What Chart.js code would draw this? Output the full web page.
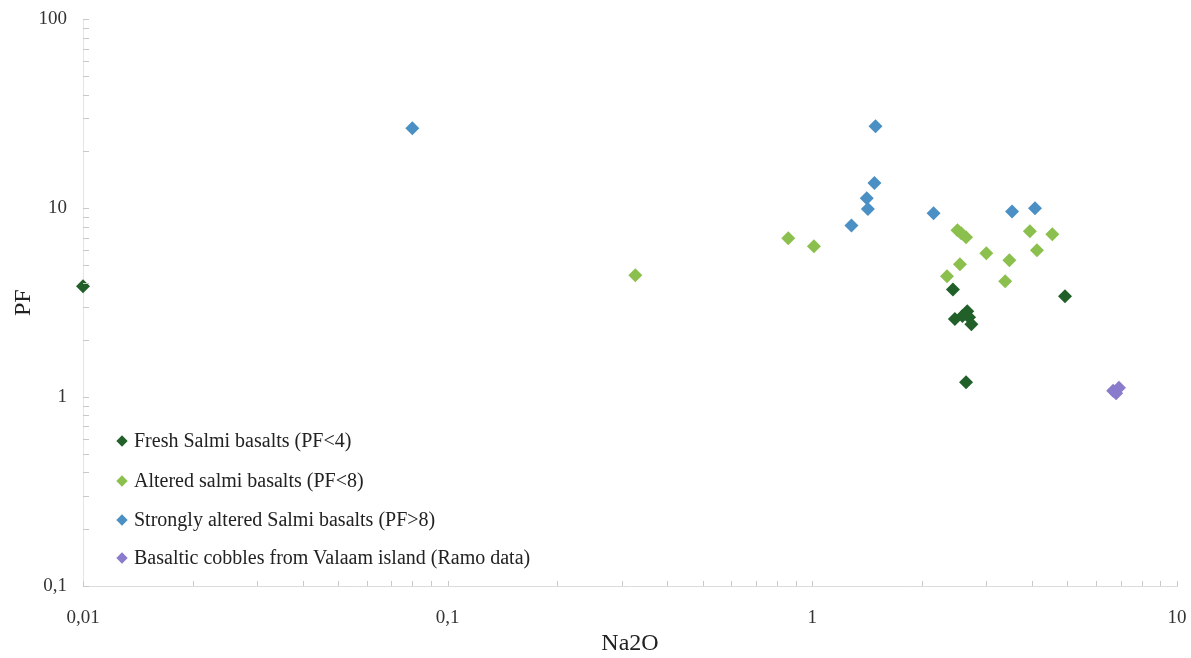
<!DOCTYPE html>
<html>
<head>
<meta charset="utf-8">
<script src="https://cdn.jsdelivr.net/npm/chart.js@4.4.0/dist/chart.umd.min.js"></script>
<style>
  html, body { margin: 0; padding: 0; background: #fff; }
  #wrap { position: relative; width: 1191px; height: 658px; }
  #legend { position: absolute; left: 0; top: 0; font-family: "Liberation Serif", serif; font-size: 20px; color: #222; }
  .item { position: absolute; left: 116px; height: 24px; line-height: 24px; white-space: nowrap; }
  .mk { display: inline-block; width: 8px; height: 8px; transform: rotate(45deg); margin: 0 8px 0 2px; vertical-align: 2px; }
</style>
</head>
<body>
<div id="wrap">
  <canvas id="chart" width="1191" height="658"></canvas>
  <div id="legend"></div>
</div>
<script>
// 🔹 DATA (Na2O vs PF)
const freshNa2O = [0.01, 2.43, 4.93, 2.46, 2.58, 2.66, 2.69, 2.73, 2.64];
const freshPF   = [3.87, 3.72, 3.42, 2.59, 2.69, 2.85, 2.65, 2.43, 1.2];

const alteredNa2O = [0.327, 0.859, 1.01, 2.5, 2.56, 2.64, 3.95, 4.55, 4.13, 3.0, 3.47, 2.54, 2.34, 3.38];
const alteredPF   = [4.42, 6.94, 6.29, 7.65, 7.38, 7.03, 7.55, 7.28, 6.0, 5.78, 5.31, 5.06, 4.37, 4.11];

const strongNa2O = [0.08, 1.49, 1.48, 1.41, 1.42, 1.28, 2.15, 3.53, 4.08];
const strongPF   = [26.5, 27.2, 13.6, 11.3, 9.9, 8.1, 9.4, 9.6, 10.0];

const valaamNa2O = [6.68, 6.93, 6.81];
const valaamPF   = [1.08, 1.12, 1.05];

const seriesNames = [
  "Fresh Salmi basalts (PF<4)",
  "Altered salmi basalts (PF<8)",
  "Strongly altered Salmi basalts (PF>8)",
  "Basaltic cobbles from Valaam island (Ramo data)"
];
const seriesColors = ["#22602a", "#8cc04e", "#4a90c4", "#8a7bcc"];

const xTickLabels = [0.01, 0.1, 1, 10];
const yTickLabels = [0.1, 1, 10, 100];

// 🔹 helpers
const toPoints = (xs, ys) => xs.map((x, i) => ({ x: x, y: ys[i] }));
const commaLabel = (v, list) => {
  const hit = list.find(t => Math.abs(t - v) < t * 1e-6);
  return hit === undefined ? "" : String(hit).replace(".", ",");
};

const dataSets = [
  toPoints(freshNa2O, freshPF),
  toPoints(alteredNa2O, alteredPF),
  toPoints(strongNa2O, strongPF),
  toPoints(valaamNa2O, valaamPF)
];

// 🔥 inward minor ticks (like the original axes)
const innerTicks = {
  id: "innerTicks",
  afterDraw(chart) {
    const ctx = chart.ctx;
    const area = chart.chartArea;
    ctx.save();
    ctx.strokeStyle = "#c8c8c8";
    ctx.lineWidth = 1;
    const isWhole = v => {
      const m = v / Math.pow(10, Math.floor(Math.log10(v) + 1e-9));
      return Math.abs(m - Math.round(m)) < 1e-6;
    };
    chart.scales.x.ticks.forEach(t => {
      if (!isWhole(t.value)) return;
      const px = Math.round(chart.scales.x.getPixelForValue(t.value)) + 0.5;
      ctx.beginPath();
      ctx.moveTo(px, area.bottom);
      ctx.lineTo(px, area.bottom - 5);
      ctx.stroke();
    });
    chart.scales.y.ticks.forEach(t => {
      if (!isWhole(t.value)) return;
      const py = Math.round(chart.scales.y.getPixelForValue(t.value)) + 0.5;
      ctx.beginPath();
      ctx.moveTo(area.left, py);
      ctx.lineTo(area.left + 6, py);
      ctx.stroke();
    });
    ctx.restore();
  }
};

const serif = "'Liberation Serif', 'Times New Roman', serif";

new Chart(document.getElementById("chart"), {
  type: "scatter",
  data: {
    datasets: dataSets.map((pts, i) => ({
      label: seriesNames[i],
      data: pts,
      clip: false,
      pointStyle: "rectRot",
      pointRadius: 7,
      pointHoverRadius: 7,
      borderWidth: 0,
      backgroundColor: seriesColors[i],
      borderColor: seriesColors[i]
    }))
  },
  options: {
    responsive: false,
    animation: false,
    layout: { padding: { top: 13, right: 14, left: 0, bottom: 0 } },
    plugins: {
      legend: { display: false },
      tooltip: { enabled: false }
    },
    scales: {
      x: {
        type: "logarithmic",
        min: 0.01,
        max: 10,
        afterFit: s => { s.height = 72; },
        // invisible tick marks only used to push the labels down
        grid: { display: true, drawOnChartArea: false, drawTicks: true, tickLength: 21, color: "rgba(0,0,0,0)" },
        border: { display: true, color: "#dcdcdc" },
        ticks: {
          autoSkip: false,
          maxRotation: 0,
          padding: 0,
          color: "#333",
          font: { family: serif, size: 19 },
          callback: v => commaLabel(v, xTickLabels)
        },
        title: {
          display: true,
          text: "Na2O",
          color: "#222",
          font: { family: serif, size: 24 },
          padding: { top: -2, bottom: 0 }
        }
      },
      y: {
        type: "logarithmic",
        min: 0.1,
        max: 100,
        afterFit: s => { s.width = 83; },
        grid: { display: false },
        border: { display: true, color: "#e4e4e4" },
        ticks: {
          autoSkip: false,
          padding: 8,
          color: "#333",
          font: { family: serif, size: 19 },
          callback: v => commaLabel(v, yTickLabels)
        },
        title: {
          display: true,
          text: "PF",
          color: "#222",
          font: { family: serif, size: 24 },
          padding: { top: 9, bottom: 0 }
        }
      }
    }
  },
  plugins: [innerTicks]
});

// 🔹 LEGEND (inside plot, bottom-left)
const legend = document.getElementById("legend");
const legendTops = [428, 468, 507, 545];
seriesNames.forEach((name, i) => {
  legend.innerHTML += `
    <div class="item" style="top:${legendTops[i]}px">
      <span class="mk" style="background:${seriesColors[i]}"></span>${name}
    </div>`;
});
</script>
</body>
</html>
